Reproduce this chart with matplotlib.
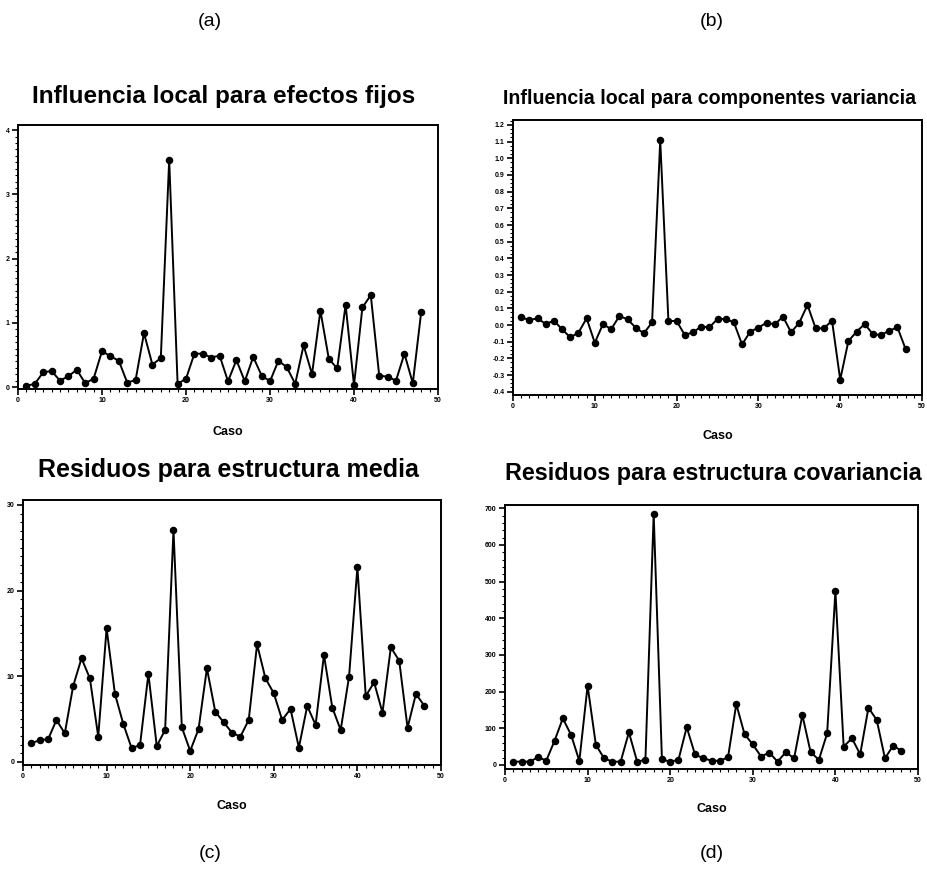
import matplotlib
matplotlib.use("Agg")
import matplotlib.pyplot as plt
from matplotlib.ticker import MultipleLocator

plt.rcParams['font.family'] = ['Liberation Sans', 'DejaVu Sans']

casos = list(range(1, 49))

efectos_fijos = [0.02, 0.05, 0.23, 0.25, 0.10, 0.17, 0.27, 0.06, 0.13, 0.56,
                 0.48, 0.41, 0.07, 0.11, 0.84, 0.35, 0.45, 3.54, 0.05, 0.13,
                 0.52, 0.52, 0.46, 0.49, 0.09, 0.42, 0.09, 0.47, 0.18, 0.09,
                 0.41, 0.31, 0.05, 0.65, 0.20, 1.19, 0.44, 0.29, 1.28, 0.03,
                 1.24, 1.43, 0.18, 0.16, 0.10, 0.52, 0.06, 1.17]

comp_varianza = [0.046, 0.030, 0.040, 0.006, 0.026, -0.026, -0.074, -0.046, 0.040, -0.107,
                 0.006, -0.026, 0.054, 0.034, -0.016, -0.050, 0.016, 1.107, 0.024, 0.024,
                 -0.060, -0.044, -0.010, -0.014, 0.036, 0.036, 0.016, -0.117, -0.040, -0.016,
                 0.014, 0.004, 0.050, -0.044, 0.014, 0.120, -0.020, -0.020, 0.026, -0.328,
                 -0.097, -0.040, 0.006, -0.056, -0.060, -0.034, -0.014, -0.145]

res_media = [2.14, 2.53, 2.61, 4.87, 3.31, 8.84, 12.08, 9.74, 2.92, 15.58,
             7.91, 4.40, 1.56, 1.95, 10.25, 1.83, 3.70, 27.07, 4.01, 1.25,
             3.82, 10.91, 5.84, 4.60, 3.39, 2.92, 4.87, 13.71, 9.74, 7.99,
             4.87, 6.16, 1.64, 6.51, 4.29, 12.47, 6.31, 3.70, 9.93, 22.71,
             7.67, 9.27, 5.73, 13.36, 11.80, 3.97, 7.91, 6.54]

res_cov = [9, 9, 9, 21, 12, 66, 127, 82, 11, 216,
           55, 18, 9, 9, 89, 9, 14, 684, 15, 9,
           14, 103, 29, 18, 12, 11, 21, 166, 84, 56,
           23, 34, 9, 35, 18, 136, 35, 14, 86, 475,
           50, 73, 29, 156, 123, 18, 53, 38]

titulos = ["Influencia local para efectos fijos",
           "Influencia local para componentes variancia",
           "Residuos para estructura media",
           "Residuos para estructura covariancia"]
etiquetas = ["(a)", "(b)", "(c)", "(d)"]
xticks = [0, 10, 20, 30, 40, 50]
yticks_a = [0, 1, 2, 3, 4]
yticks_b = [1.2, 1.1, 1.0, 0.9, 0.8, 0.7, 0.6, 0.5, 0.4, 0.3, 0.2, 0.1, 0.0, -0.1, -0.2, -0.3, -0.4]
yticks_c = [0, 10, 20, 30]
yticks_d = [0, 100, 200, 300, 400, 500, 600, 700]

W, H = 928, 896
fig = plt.figure(figsize=(W / 100, H / 100), dpi=100)

def box(l, t, r, b):
    return [l / W, 1 - b / H, (r - l) / W, (b - t) / H]

paneles = [
    dict(pos=box(18, 125, 438, 389), y=efectos_fijos, ylim=(-0.03, 4.08),
         yt=yticks_a, ylab=[str(v) for v in yticks_a], minor_y=0.1,
         title_x=224, title_y=97, title_fs=17.5, caso_y=432),
    dict(pos=box(513, 120, 922, 395), y=comp_varianza, ylim=(-0.42, 1.23),
         yt=yticks_b, ylab=["%.1f" % v for v in yticks_b], minor_y=0.025,
         title_x=710, title_y=98, title_fs=14.1, caso_y=436),
    dict(pos=box(23, 500, 441, 765), y=res_media, ylim=(-0.39, 30.58),
         yt=yticks_c, ylab=[str(v) for v in yticks_c], minor_y=1,
         title_x=228, title_y=470, title_fs=18, caso_y=806),
    dict(pos=box(505, 505, 918, 769), y=res_cov, ylim=(-11, 709),
         yt=yticks_d, ylab=[str(v) for v in yticks_d], minor_y=20,
         title_x=713, title_y=473, title_fs=16.8, caso_y=809),
]

for i, p in enumerate(paneles):
    ax = fig.add_axes(p['pos'])
    ax.plot(casos, p['y'], color='black', lw=1.4, marker='o', ms=4.4,
            markerfacecolor='black', markeredgecolor='black')
    ax.set_xlim(0, 50)
    ax.set_ylim(*p['ylim'])
    ax.set_xticks(xticks)
    ax.set_xticklabels([str(v) for v in xticks], fontsize=5, fontweight='bold')
    ax.set_yticks(p['yt'])
    ax.set_yticklabels(p['ylab'], fontsize=5, fontweight='bold')
    ax.xaxis.set_minor_locator(MultipleLocator(1))
    ax.yaxis.set_minor_locator(MultipleLocator(p['minor_y']))
    ax.tick_params(which='major', direction='out', length=4, width=1.2, pad=2)
    ax.tick_params(which='minor', direction='out', length=2, width=0.8)
    for s in ax.spines.values():
        s.set_linewidth(1.4)
    l, b, w, h = p['pos']
    cx = l + w / 2
    fig.text(p['title_x'] / W, 1 - p['title_y'] / H, titulos[i], ha='center', va='center',
             fontsize=p['title_fs'], fontweight='bold')
    fig.text(cx, 1 - p['caso_y'] / H, "Caso", ha='center', va='center',
             fontsize=9, fontweight='bold')

for i, lab in enumerate(etiquetas):
    x = [210, 712, 210, 712][i]
    y = [22, 22, 853, 853][i]
    fig.text(x / W, 1 - y / H, lab, ha='center', va='center', fontsize=14)

fig.savefig("out.png", dpi=100, facecolor='white')
